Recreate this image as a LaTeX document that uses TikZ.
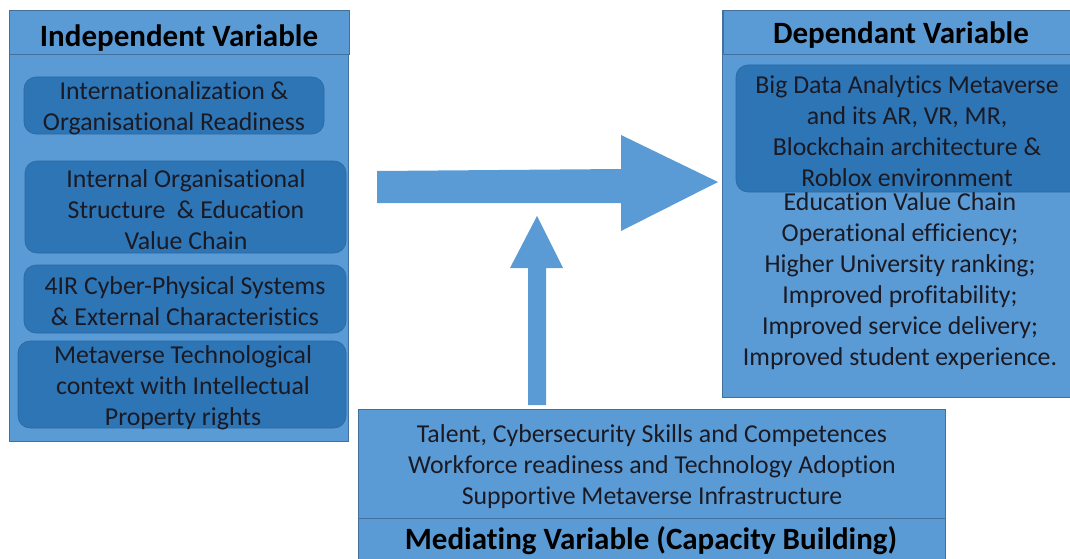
\documentclass[tikz,border=0pt]{standalone}
\usepackage{fontspec}
\setmainfont{Carlito}[Ligatures=NoCommon]
\usetikzlibrary{calc}
\definecolor{panel}{HTML}{5B9BD5}
\definecolor{paneledge}{HTML}{41719C}
\definecolor{inner}{HTML}{2E75B6}
\definecolor{txt}{HTML}{1A1A24}
\tikzset{
  panelbox/.style={fill=panel,draw=paneledge,line width=1pt},
  innerbox/.style={fill=inner,draw=inner!90!black,line width=0.6pt,rounded corners=12pt},
  bodytext/.style={text=txt,align=center,font=\fontsize{25.8}{31}\selectfont,inner sep=0pt},
  headtext/.style={text=black,align=center,font=\bfseries\fontsize{31}{36}\selectfont,inner sep=0pt},
  blockarrow/.style={fill=panel}
}
\begin{document}
\begin{tikzpicture}[x=1pt,y=-1pt]
\useasboundingbox (0,0) rectangle (1070,559);
% left panel
\draw[panelbox] (9,11) rectangle (348,441);
\draw[panelbox] (9,11) rectangle (349,55);
\node[headtext] (ivh) at (179,38) {Independent Variable};
\draw[innerbox] (24,77) rectangle (324,134);
\node[bodytext] (iv1) at (174,108.5) {Internationalization \&\\Organisational Readiness};
\draw[innerbox] (25,161) rectangle (346,253);
\node[bodytext] (iv2) at (186,210) {Internal Organisational\\Structure~ \& Education\\Value Chain};
\draw[innerbox] (24,265) rectangle (346,333);
\node[bodytext] (iv3) at (185,301.5) {4IR Cyber-Physical Systems\\\& External Characteristics};
\draw[innerbox] (18,341) rectangle (346,428);
\node[bodytext] (iv4) at (183,387.5) {Metaverse Technological\\context with Intellectual\\Property rights};
% right panel
\draw[panelbox] (722,11) rectangle (1075,397);
\draw[panelbox] (723,11) rectangle (1075,55);
\node[headtext] (dvh) at (901,35) {Dependant Variable};
\draw[innerbox] (736,65) rectangle (1085,192);
\node[bodytext] (dv1) at (907,131) {Big Data Analytics Metaverse\\and its AR, VR, MR,\\Blockchain architecture \&\\Roblox environment};
\node[bodytext] (dv2) at (900,281.5) {Education Value Chain\\Operational efficiency;\\Higher University ranking;\\Improved profitability;\\Improved service delivery;\\Improved student experience.};
% bottom panel
\draw[panelbox] (358,409) rectangle (945,565);
\draw[panelbox] (358,518) rectangle (945,565);
\node[bodytext] (mv1) at (652,467) {Talent, Cybersecurity Skills and Competences\\Workforce readiness and Technology Adoption\\Supportive Metaverse Infrastructure};
\node[headtext] (mvh) at (651,541) {Mediating Variable (Capacity Building)};
% arrows
\coordinate (hs) at (377,187);
\coordinate (he) at (718,182);
\fill[blockarrow] ($(hs)+(0,-16)$) -- ($(he)+(-97,-13)$) -- ($(he)+(-97,-47)$) -- (he)
  -- ($(he)+(-97,49)$) -- ($(he)+(-97,21)$) -- ($(hs)+(0,16)$) -- cycle;
\coordinate (vs) at (537,405);
\coordinate (ve) at (537,216);
\fill[blockarrow] ($(vs)+(-9,0)$) -- ($(ve)+(-9,52)$) -- ($(ve)+(-27,52)$) -- (ve)
  -- ($(ve)+(26,52)$) -- ($(ve)+(9,52)$) -- ($(vs)+(9,0)$) -- cycle;
\end{tikzpicture}
\end{document}
